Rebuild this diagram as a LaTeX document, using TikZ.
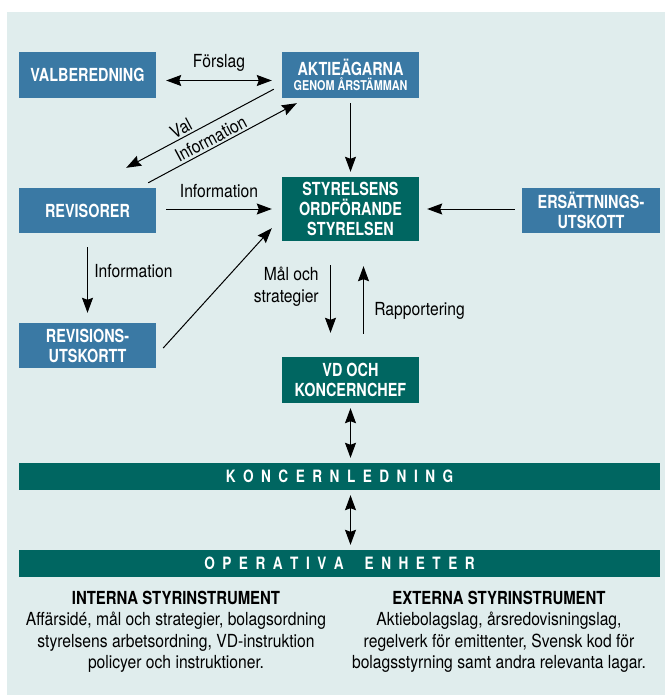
\documentclass[tikz,border=0pt]{standalone}
\usepackage{fontspec}
\setmainfont{TeX Gyre Heros}[FakeStretch=0.87]
\newfontfamily\boldcn{TeX Gyre Heros}[FakeStretch=0.8]
\newfontfamily\headcn{TeX Gyre Heros}[FakeStretch=0.83]
\usepackage{tikz}
\usetikzlibrary{arrows.meta}
\definecolor{boxblue}{HTML}{3A79A4}
\definecolor{boxteal}{HTML}{006661}
\definecolor{panelbg}{HTML}{E0EDED}
\newcommand\lgap{\hspace{7.5pt}}
\newcommand\wgap{\hspace{21pt}}

\begin{document}
\begin{tikzpicture}[x=1pt,y=-1pt]
% Box styles
\tikzset{
    bluebox/.style={fill=boxblue, text=white, minimum width=137pt, minimum height=46pt,
        inner sep=0pt, align=center, font=\boldcn\bfseries\fontsize{18}{20}\selectfont},
    tealbox/.style={bluebox, fill=boxteal},
    bar/.style={fill=boxteal, text=white, minimum width=641pt, minimum height=27pt,
        inner sep=0pt, font=\boldcn\bfseries\fontsize{17}{20}\selectfont},
    arr/.style={-{Stealth[length=15pt,width=11pt,inset=2pt]}, line width=1pt},
    darr/.style={{Stealth[length=15pt,width=11pt,inset=2pt]}-{Stealth[length=15pt,width=11pt,inset=2pt]}, line width=1pt},
    lbl/.style={font=\fontsize{18}{22}\selectfont}
}
\useasboundingbox (0,0) rectangle (665,695);
\fill[panelbg] (7,12) rectangle (665,695);
% Boxes
\node[bluebox] (valb) at (87.5,75) {VALBEREDNING};
\node[bluebox] (aktie) at (350.5,75) {AKTIEÄGARNA\\[-4.5pt]{\fontsize{13.5}{14}\selectfont GENOM ÅRSTÄMMAN}};
\node[bluebox, minimum height=45pt] (revis) at (87.5,210.5) {REVISORER};
\node[tealbox, minimum height=64pt] (styr) at (350.5,209) {STYRELSENS\\ORDFÖRANDE\\STYRELSEN};
\node[bluebox, minimum width=138pt, minimum height=45pt] (ersatt) at (591,210.5) {ERSÄTTNINGS-\\UTSKOTT};
\node[bluebox, minimum height=45pt] (revutsk) at (87.5,345.5) {REVISIONS-\\UTSKORTT};
\node[tealbox] (vd) at (350.5,380) {VD OCH\\KONCERNCHEF};
\node[bar] (ledning) at (339.5,476.5) {K\lgap O\lgap N\lgap C\lgap E\lgap R\lgap N\lgap L\lgap E\lgap D\lgap N\lgap I\lgap N\lgap G};
\node[bar] (enheter) at (339.5,563.5) {O\lgap P\lgap E\lgap R\lgap A\lgap T\lgap I\lgap V\lgap A\wgap E\lgap N\lgap H\lgap E\lgap T\lgap E\lgap R};
% Arrows
\draw[darr, shorten <=10pt, shorten >=10pt] ([yshift=-5.5]valb.east) -- ([yshift=-5.5]aktie.west)
    node[lbl, midway, above=5pt] (forslag) {Förslag};
\draw[arr] ([shift={(-8,-9)}]aktie.south west) -- ([shift={(-30,-20)}]revis.north east)
    node[lbl, pos=0.6, above=1pt, sloped, inner sep=1pt] (val) {Val};
\draw[arr] ([shift={(-8,-5)}]revis.north east) -- ([shift={(15,5)}]aktie.south west)
    node[lbl, pos=0.45, above=1pt, sloped, inner sep=1pt] (info1) {Information};
\draw[arr, shorten <=5pt, shorten >=5pt] (aktie) -- (styr);
\draw[arr, shorten <=10pt, shorten >=10pt] (revis.east |- styr.west) -- (styr.west)
    node[lbl, midway, above=7.5pt] (info2) {Information};
\draw[arr, shorten <=7pt, shorten >=8pt] (ersatt.west |- styr.east) -- (styr.east);
\draw[arr, shorten <=14pt, shorten >=10pt] (revis) -- (revutsk)
    node[lbl, pos=0.42, right=3pt] (info3) {Information};
\draw[arr] ([shift={(7,2.5)}]revutsk.east) -- ([shift={(-10,-13)}]styr.south west);
\draw[arr, shorten <=24pt, shorten >=24pt] ([xshift=-20]styr.south) -- ([xshift=-20]vd.north)
    node[lbl, pos=0.39, left=8pt, align=right] (mal) {Mål och\\strategier};
\draw[arr, shorten <=23pt, shorten >=25pt] ([xshift=13]vd.north) -- ([xshift=13]styr.south)
    node[lbl, pos=0.40, right=7pt] (rapport) {Rapportering};
\draw[darr, shorten <=5pt, shorten >=5pt] (vd.south) -- (vd.south |- ledning.north);
\draw[darr, shorten <=5pt, shorten >=5pt] (ledning.south -| vd.south) -- (enheter.north -| vd.south);
% Styrinstrument
\node[lbl, align=center, font=\fontsize{18}{21.5}\selectfont] (interna) at (176,632)
    {{\headcn\bfseries INTERNA STYRINSTRUMENT}\\Affärsidé, mål och strategier, bolagsordning\\styrelsens arbetsordning, VD-instruktion\\policyer och instruktioner.};
\node[lbl, align=center, font=\fontsize{18}{21.5}\selectfont] (externa) at (499,632)
    {{\headcn\bfseries EXTERNA STYRINSTRUMENT}\\Aktiebolagslag, årsredovisningslag,\\regelverk för emittenter, Svensk kod för\\bolagsstyrning samt andra relevanta lagar.};
\end{tikzpicture}
\end{document}
